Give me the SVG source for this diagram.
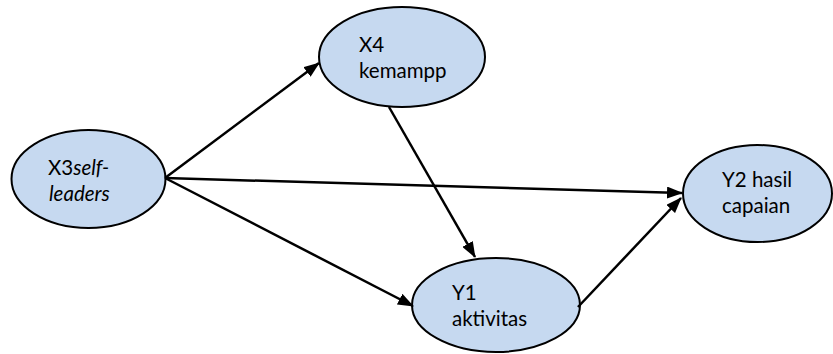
<svg xmlns="http://www.w3.org/2000/svg" width="833" height="354" viewBox="0 0 833 354">
<style>
.node ellipse{fill:#c6d9f0;stroke:#000;stroke-width:2}
.node text{font-family:Lato,"Open Sans","Liberation Sans",sans-serif;font-size:20.5px;fill:#000}
.it{font-style:italic}
#connectors line{stroke:#000;stroke-width:2.5;fill:none}
</style>
<defs>
<marker id="ah" viewBox="0 0 16 12" refX="15" refY="6" markerWidth="16" markerHeight="12" markerUnits="userSpaceOnUse" orient="auto">
<path d="M0,0 L16,6 L0,12 z" fill="#000"/>
</marker>
</defs>
<rect width="833" height="354" fill="#fff"/>
<g id="X3" class="node">
<ellipse cx="88.5" cy="179" rx="77" ry="49"/>
<text x="48" y="175">X3<tspan class="it">self-</tspan></text>
<text x="49" y="201" class="it">leaders</text>
</g>
<g id="X4" class="node">
<ellipse cx="402" cy="57" rx="83" ry="50"/>
<text x="359" y="52">X4</text>
<text x="359" y="78">kemampp</text>
</g>
<g id="Y1" class="node">
<ellipse cx="496" cy="305" rx="84" ry="47"/>
<text x="452" y="300">Y1</text>
<text x="452" y="326">aktivitas</text>
</g>
<g id="Y2" class="node">
<ellipse cx="757.5" cy="193.5" rx="74.5" ry="48.5"/>
<text x="722" y="187">Y2 hasil</text>
<text x="722" y="213">capaian</text>
</g>
<g id="connectors">
<line x1="165" y1="178" x2="319" y2="63" marker-end="url(#ah)"/>
<line x1="165" y1="178" x2="682" y2="193" marker-end="url(#ah)"/>
<line x1="165" y1="178" x2="413" y2="306" marker-end="url(#ah)"/>
<line x1="389" y1="107" x2="475" y2="257" marker-end="url(#ah)"/>
<line x1="578" y1="307" x2="681" y2="198" marker-end="url(#ah)"/>
</g>
</svg>
